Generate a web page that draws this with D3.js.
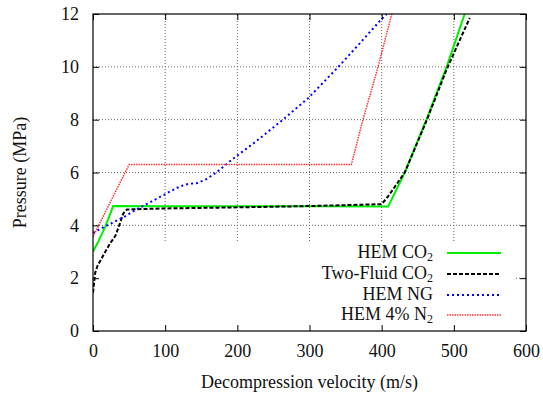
<!DOCTYPE html>
<html>
<head>
<meta charset="utf-8">
<script src="https://cdn.jsdelivr.net/npm/d3@7"></script>
<style>
  body { margin: 0; background: #fff; }
</style>
</head>
<body>
<div id="chart"></div>
<script>
// values: [velocity m/s, pressure MPa]
const hemCO2 = [[0, 3.0], [8, 3.42], [17, 3.95], [28, 4.73], [100, 4.72], [200, 4.72], [300, 4.72],
  [409, 4.71], [432, 6.0], [462, 8.0], [490, 10.0], [515, 12.0]];
const twoFluidCO2 = [[0, 1.45], [3, 2.2], [6, 2.45], [10, 2.65], [17, 3.0], [24, 3.33], [31, 3.6],
  [37, 4.05], [42, 4.45], [47, 4.6], [100, 4.64], [200, 4.68], [300, 4.73], [400, 4.8],
  [409, 5.1], [432, 6.0], [462, 7.95], [490, 9.9], [522, 11.85]];
const hemNG = [[0, 3.72], [19, 3.99], [30, 4.14], [45, 4.35], [60, 4.6], [81, 4.9], [102, 5.21],
  [120, 5.47], [132, 5.57], [145, 5.6], [157, 5.75], [171, 6.0], [194, 6.52], [227, 7.2],
  [264, 8.02], [298, 8.81], [340, 10.0], [370, 10.9], [397, 11.72], [407, 12.0]];
const hemN2 = [[0, 3.57], [50, 6.3], [358, 6.3], [374, 7.99], [395, 10.0], [414, 12.0]];

const seriesNames = ['HEM CO', 'Two-Fluid CO', 'HEM NG', 'HEM 4% N'];
const seriesSubs = ['2', '2', '', '2'];
const seriesData = [hemCO2, twoFluidCO2, hemNG, hemN2];
const seriesStyle = [
  { color: '#00ee00', width: 2, dash: null },
  { color: '#000', width: 2, dash: '4,2' },
  { color: '#0000ff', width: 2, dash: '2,3' },
  { color: '#ff3333', width: 1.5, dash: '1.5,1' }
];

const xTicks = [0, 100, 200, 300, 400, 500, 600];
const yTicks = [0, 2, 4, 6, 8, 10, 12];

const FONT = 'Liberation Serif';
const FS = 18;
const width = 543, height = 394;
const margin = { left: 93, right: 17, top: 14, bottom: 63 };

const x = d3.scaleLinear().domain([0, 600]).range([margin.left, width - margin.right]);
const y = d3.scaleLinear().domain([0, 12]).range([height - margin.bottom, margin.top]);

const svg = d3.select('#chart').append('svg')
  .attr('width', width)
  .attr('height', height);

// grid
svg.append('g').selectAll('line')
  .data(xTicks.slice(1, -1))
  .join('line')
  .attr('x1', d => x(d)).attr('x2', d => x(d))
  .attr('y1', y(0)).attr('y2', y(12))
  .attr('stroke', '#666').attr('stroke-width', 1).attr('stroke-dasharray', '1,2');
svg.append('g').selectAll('line')
  .data(yTicks.slice(1, -1))
  .join('line')
  .attr('x1', x(0)).attr('x2', x(600))
  .attr('y1', d => y(d)).attr('y2', d => y(d))
  .attr('stroke', '#666').attr('stroke-width', 1).attr('stroke-dasharray', '1,2');

// opaque key box (hides the grid under it)
svg.append('rect')
  .attr('x', x(0) + 1).attr('y', 243)
  .attr('width', 513 - x(0)).attr('height', y(0) - 243)
  .attr('fill', '#fff');

const line = d3.line().x(d => x(d[0])).y(d => y(d[1]));

svg.append('clipPath').attr('id', 'clip')
  .append('rect')
  .attr('x', x(0)).attr('y', y(12))
  .attr('width', x(600) - x(0)).attr('height', y(0) - y(12));

const plot = svg.append('g').attr('clip-path', 'url(#clip)');
seriesData.forEach((s, i) => {
  plot.append('path')
    .datum(s)
    .attr('d', line)
    .attr('fill', 'none')
    .attr('stroke', seriesStyle[i].color)
    .attr('stroke-width', seriesStyle[i].width)
    .attr('stroke-dasharray', seriesStyle[i].dash);
});

// border
svg.append('rect')
  .attr('x', x(0)).attr('y', y(12))
  .attr('width', x(600) - x(0)).attr('height', y(0) - y(12))
  .attr('fill', 'none').attr('stroke', '#000').attr('stroke-width', 1.2);

// axes with inward ticks, mirrored
const fmt = d3.format('d');
svg.append('g').attr('transform', `translate(0,${y(0)})`)
  .call(d3.axisBottom(x).tickValues(xTicks).tickSize(-6).tickPadding(13).tickFormat(fmt));
svg.append('g').attr('transform', `translate(0,${y(12)})`)
  .call(d3.axisTop(x).tickValues(xTicks).tickSize(-6).tickFormat(''));
svg.append('g').attr('transform', `translate(${x(0)},0)`)
  .call(d3.axisLeft(y).tickValues(yTicks).tickSize(-6).tickPadding(14).tickFormat(fmt));
svg.append('g').attr('transform', `translate(${x(600)},0)`)
  .call(d3.axisRight(y).tickValues(yTicks).tickSize(-6).tickFormat(''));

svg.selectAll('.domain').remove();
svg.selectAll('.tick line').attr('stroke', '#000');
svg.selectAll('.tick text').attr('font-size', FS);

// axis titles
svg.append('text')
  .attr('x', (x(0) + x(600)) / 2).attr('y', 388)
  .attr('text-anchor', 'middle')
  .attr('font-size', FS)
  .text('Decompression velocity (m/s)');
svg.append('text')
  .attr('transform', `translate(26,${(y(0) + y(12)) / 2}) rotate(-90)`)
  .attr('text-anchor', 'middle')
  .attr('font-size', FS)
  .text('Pressure (MPa)');

// key
const keyY = [253, 274, 295, 315];
seriesNames.forEach((name, i) => {
  const t = svg.append('text')
    .attr('x', 433).attr('y', keyY[i] + 5)
    .attr('text-anchor', 'end')
    .attr('font-size', FS);
  t.append('tspan').text(name);
  if (seriesSubs[i]) {
    t.append('tspan').attr('dy', 3).attr('font-size', 12).text(seriesSubs[i]);
  }
  svg.append('line')
    .attr('x1', 447).attr('x2', 501)
    .attr('y1', keyY[i]).attr('y2', keyY[i])
    .attr('stroke', seriesStyle[i].color)
    .attr('stroke-width', seriesStyle[i].width)
    .attr('stroke-dasharray', seriesStyle[i].dash);
});

svg.selectAll('g').attr('font-family', FONT);
svg.selectAll('text').attr('font-family', FONT).attr('fill', '#111');
</script>
</body>
</html>
